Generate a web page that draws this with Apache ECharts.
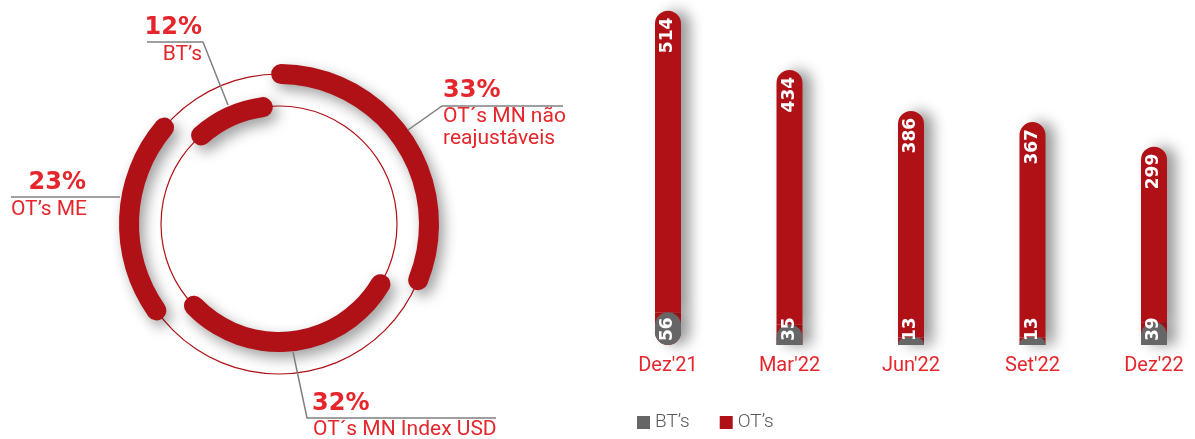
<!DOCTYPE html>
<html>
<head>
<meta charset="utf-8">
<script src="https://cdn.jsdelivr.net/npm/echarts@6/dist/echarts.min.js"></script>
<style>
  html, body { margin: 0; padding: 0; background: #ffffff; }
  #chart { width: 1195px; height: 439px; }
</style>
</head>
<body>
<div id="chart"></div>
<script>
// Quarterly stock of securities (bars)
const periods = ["Dez'21", "Mar'22", "Jun'22", "Set'22", "Dez'22"];
const btValues = [56, 35, 13, 13, 39];
const otValues = [514, 434, 386, 367, 299];
const legendNames = ['BT’s', 'OT’s'];

// Composition of the portfolio (ring), in percent
const shareNames = ['OT´s MN não reajustáveis', 'OT´s MN Index USD', 'OT’s ME', 'BT’s'];
const shareValues = [33, 32, 23, 12];
const shareRing = ['outer', 'inner', 'outer', 'inner'];

const RED = '#b01117';
const GRAY = '#666666';
const TEXT_RED = '#e5262c';
const LEAD = '#808080';
const RING_CENTER = [279, 224];

function ringSeries(which, radius) {
  return {
    type: 'pie', center: RING_CENTER, radius: radius, startAngle: 93, clockwise: true,
    silent: true, z: 3, label: { show: false }, labelLine: { show: false },
    emphasis: { disabled: true },
    data: shareValues.map((v, i) => ({
      value: v, name: shareNames[i],
      itemStyle: shareRing[i] === which
        ? { color: RED, borderRadius: 10, shadowBlur: 14, shadowOffsetX: 5, shadowOffsetY: 6, shadowColor: 'rgba(0,0,0,0.38)' }
        : { color: 'rgba(0,0,0,0)' }
    }))
  };
}

function thinCircle(r) {
  return {
    type: 'pie', center: RING_CENTER, radius: [r - 0.6, r + 0.6], silent: true, z: 2,
    label: { show: false }, labelLine: { show: false }, emphasis: { disabled: true },
    data: [{ value: 1, name: '', itemStyle: { color: RED } }]
  };
}

// Callout texts and leader lines around the ring
const PCT_FONT = 'bold 24px "DejaVu Sans"';
const NAME_FONT = '21px Roboto';
function txt(x, y, text, font, align) {
  return { type: 'text', x: x, y: y, silent: true, z: 10,
    style: { text: text, font: font, fill: TEXT_RED, align: align, verticalAlign: 'middle', textAlign: align, textVerticalAlign: 'middle' } };
}
function lead(points) {
  return { type: 'polyline', silent: true, z: 10, shape: { points: points },
    style: { stroke: LEAD, lineWidth: 1.5, fill: null } };
}
const pct = v => v + '%';

const callouts = [
  // BT's
  txt(202, 28, pct(shareValues[3]), PCT_FONT, 'right'),
  txt(202, 55, shareNames[3], NAME_FONT, 'right'),
  lead([[147, 42], [203, 42], [228, 105]]),
  // OT's MN não reajustáveis
  txt(443, 91, pct(shareValues[0]), PCT_FONT, 'left'),
  txt(443, 117, 'OT´s MN não', NAME_FONT, 'left'),
  txt(443, 139, 'reajustáveis', NAME_FONT, 'left'),
  lead([[408, 130], [442, 106], [563, 106]]),
  // OT's ME
  txt(86, 183, pct(shareValues[2]), PCT_FONT, 'right'),
  txt(87, 210, shareNames[2], NAME_FONT, 'right'),
  lead([[11, 197], [120, 197]]),
  // OT's MN Index USD
  txt(312, 404, pct(shareValues[1]), PCT_FONT, 'left'),
  txt(313, 430, shareNames[1], NAME_FONT, 'left'),
  lead([[293, 352], [307, 418], [496, 418]])
];

const barShadow = { shadowBlur: 14, shadowOffsetX: 9, shadowOffsetY: 0, shadowColor: 'rgba(0,0,0,0.40)' };
const valueLabel = { show: true, rotate: 90, verticalAlign: 'middle', color: '#ffffff',
  fontFamily: 'DejaVu Sans', fontWeight: 'bold', fontSize: 17 };

const chart = echarts.init(document.getElementById('chart'));
chart.setOption({
  animation: false,
  backgroundColor: '#ffffff',
  grid: { left: 607.25, right: -19.75, top: 4.8, bottom: 94, containLabel: false, outerBoundsMode: 'none' },
  legend: {
    data: legendNames, left: 637, top: 413, padding: 0, icon: 'rect', itemWidth: 13, itemHeight: 13, itemGap: 30,
    selectedMode: false,
    itemStyle: { shadowBlur: 0, shadowColor: 'rgba(0,0,0,0)', borderWidth: 0 },
    textStyle: { fontFamily: 'Roboto', fontWeight: 300, fontSize: 19, color: '#58595b' }
  },
  xAxis: {
    type: 'category', data: periods,
    axisLine: { show: false }, axisTick: { show: false }, splitLine: { show: false },
    axisLabel: { color: TEXT_RED, fontFamily: 'Roboto', fontSize: 20, margin: 11 }
  },
  yAxis: { type: 'value', min: 0, max: 580, show: false, splitLine: { show: false } },
  graphic: callouts,
  series: [
    thinCircle(150),
    thinCircle(118),
    ringSeries('outer', [140, 160]),
    ringSeries('inner', [108, 128]),
    // red column base running under the BT's segment
    {
      type: 'bar', name: legendNames[1], stack: 'base', barWidth: 26, barGap: '-100%', z: 2, silent: true,
      itemStyle: Object.assign({ color: RED }, barShadow),
      data: btValues.map((v, i) => ({ value: v, itemStyle: { borderRadius: i === 0 ? [0, 0, 13, 13] : 0 } }))
    },
    {
      type: 'bar', name: legendNames[0], stack: 'col', barWidth: 26, barGap: '-100%', z: 4, silent: true,
      itemStyle: { color: GRAY },
      label: Object.assign({ position: 'insideBottom', align: 'left', distance: 4 }, valueLabel),
      data: btValues.map((v, i) => ({ value: v, itemStyle: { borderRadius: i === 0 ? 13 : [13, 13, 0, 0] } }))
    },
    {
      type: 'bar', name: legendNames[1], stack: 'col', barWidth: 26, barGap: '-100%', z: 3, silent: true,
      itemStyle: Object.assign({ color: RED, borderRadius: [13, 13, 0, 0] }, barShadow),
      label: Object.assign({ position: 'insideTop', align: 'right', distance: 7 }, valueLabel),
      data: otValues
    }
  ]
});
</script>
</body>
</html>
